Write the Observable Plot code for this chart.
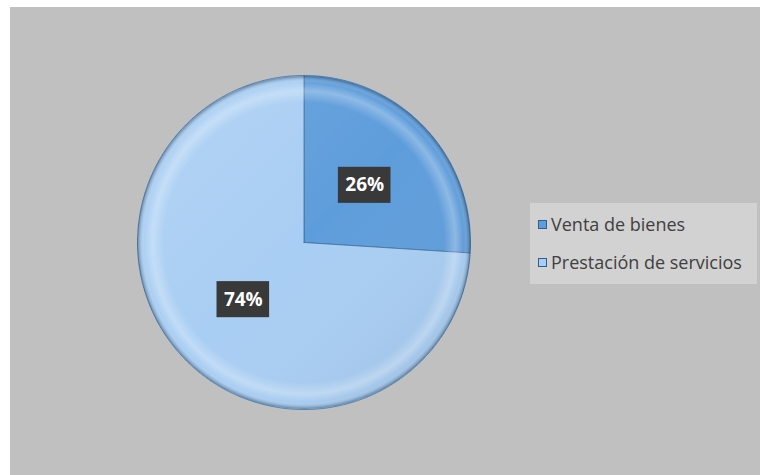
<!DOCTYPE html>
<html><head><meta charset="utf-8">
<script src="https://cdn.jsdelivr.net/npm/d3@7"></script>
<script src="https://cdn.jsdelivr.net/npm/@observablehq/plot@0.6"></script>
<style>
body{margin:0;background:#fff;}
#wrap{position:relative;width:760px;height:475px;overflow:hidden;font-family:"Open Sans",Lato,sans-serif;}
#bg{position:absolute;left:10px;top:7px;right:0;bottom:0;background:#c0c0c0;}
#chart{position:absolute;left:0;top:0;}
#legend{position:absolute;left:530px;top:203px;width:227px;height:81px;background:#d2d2d2;}
.lrow{position:absolute;left:8px;height:26px;display:flex;align-items:center;font-size:18px;color:#404040;white-space:nowrap;}
.sw{width:9px;height:9px;margin-right:4px;box-sizing:border-box;border:1px solid #2e5f8f;}
</style></head>
<body>
<div id="wrap"><div id="bg"></div><div id="chart"></div><div id="legend"></div></div>
<svg width="0" height="0" style="position:absolute">
  <defs>
    <radialGradient id="bevel" cx="50%" cy="50%" r="50%">
      <stop offset="0.84" stop-color="#fff" stop-opacity="0"/>
      <stop offset="0.91" stop-color="#fff" stop-opacity="0.28"/>
      <stop offset="0.96" stop-color="#fff" stop-opacity="0"/>
      <stop offset="1" stop-color="#0a2a50" stop-opacity="0.45"/>
    </radialGradient>
    <linearGradient id="light" x1="0" y1="0" x2="1" y2="1">
      <stop offset="0" stop-color="#fff" stop-opacity="0.12"/>
      <stop offset="0.5" stop-color="#fff" stop-opacity="0"/>
      <stop offset="1" stop-color="#08264a" stop-opacity="0.14"/>
    </linearGradient>
  </defs>
</svg>
<script>
const categories = ["Venta de bienes", "Prestación de servicios"];
const values = [26, 74];
const labels = ["26%", "74%"];
const colors = ["#5e9ddb", "#a9cef3"];

const pie = d3.pie().sort(null).value(d => d.value);
const arcs = pie(categories.map((c, i) => ({cat: c, value: values[i], label: labels[i]})));

// polygon points for each slice (unit circle, angle clockwise from top)
const pts = [];
arcs.forEach(a => {
  pts.push({cat: a.data.cat, x: 0, y: 0});
  const n = Math.max(8, Math.ceil((a.endAngle - a.startAngle) / 0.01));
  for (let k = 0; k <= n; k++) {
    const t = a.startAngle + (a.endAngle - a.startAngle) * k / n;
    pts.push({cat: a.data.cat, x: Math.sin(t), y: Math.cos(t)});
  }
  pts.push({cat: a.data.cat, x: 0, y: 0});
});
const lab = arcs.map(a => {
  const m = (a.startAngle + a.endAngle) / 2;
  return {label: a.data.label, x: 0.5 * Math.sin(m), y: 0.5 * Math.cos(m)};
});
const center = [{x: 0, y: 0}];

const chart = Plot.plot({
  width: 760, height: 475, margin: 0,
  style: {background: "transparent", overflow: "visible"},
  x: {domain: [-1, 1], range: [137, 470], axis: null},
  y: {domain: [-1, 1], range: [409, 75], axis: null},
  color: {domain: categories, range: colors},
  marks: [
    Plot.line(pts, {x: "x", y: "y", z: "cat", fill: "cat", stroke: "#3c6f9e", strokeWidth: 0.8, curve: "linear",
      style: "filter:drop-shadow(3px 4px 4px rgba(0,0,0,0.35))"}),
    Plot.dot(center, {x: "x", y: "y", r: 166.5, fill: "url(#light)", stroke: null}),
    Plot.dot(center, {x: "x", y: "y", r: 166.5, fill: "url(#bevel)", stroke: null}),
    Plot.rect(lab, {x1: d => d.x - 0.158, x2: d => d.x + 0.158, y1: d => d.y - 0.108, y2: d => d.y + 0.108,
      fill: "#393939", style: "filter:drop-shadow(2px 3px 2px rgba(0,0,0,0.4))"}),
    Plot.text(lab, {x: "x", y: "y", text: "label", fill: "white", fontSize: 19, fontWeight: "bold",
      fontFamily: "'Open Sans', Lato, sans-serif"})
  ]
});
document.getElementById("chart").appendChild(chart);

const leg = d3.select("#legend");
categories.forEach((c, i) => {
  const row = leg.append("div").attr("class", "lrow").style("top", (8 + i * 38) + "px");
  row.append("div").attr("class", "sw").style("background", colors[i]);
  row.append("span").text(c);
});
</script>
</body></html>
